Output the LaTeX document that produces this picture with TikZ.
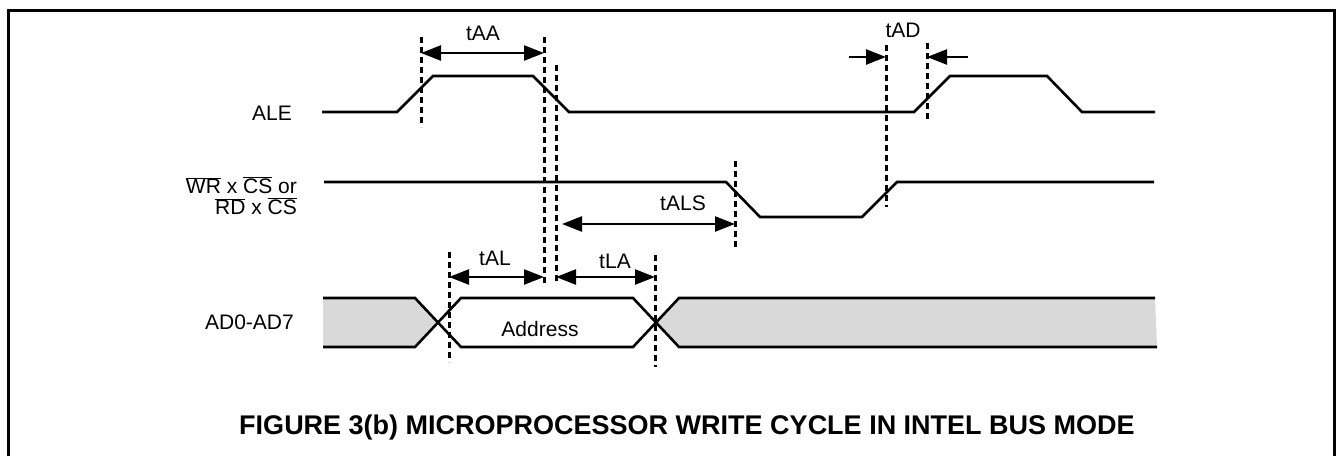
\documentclass[tikz,border=0pt]{standalone}
\usepackage{fontspec}
\setmainfont{Liberation Sans}
\usepackage{tikz}
\usetikzlibrary{arrows.meta}

\newcommand{\ovl}[1]{\(\overline{\mbox{#1}}\)}

\begin{document}
\begin{tikzpicture}[x=1pt, y=-1pt,
        sig/.style={line width=2.6pt, line join=miter},
        marker/.style={line width=3pt, dash pattern=on 6pt off 4pt},
        tip/.style={-{Triangle[length=20pt, width=15pt]}},
        dim/.style={line width=2.4pt, tip},
        dimboth/.style={line width=2.4pt, {Triangle[length=20pt, width=15pt]}-{Triangle[length=20pt, width=15pt]}},
        lbl/.style={font=\fontsize{21}{21}\selectfont, inner sep=0pt}]
        \useasboundingbox (0, 0) rectangle (1336, 456);
        \draw[line width=3pt] (8, 456) |- (1334, 10) -- (1334, 456);

        \node[lbl, anchor=east] (ale) at (292, 113) {ALE};
        \node[lbl, anchor=east, align=right] (wrcs) at (297, 196) {\ovl{WR} x \ovl{CS} or\\\ovl{RD} x \ovl{CS}};
        \node[lbl, anchor=east] (ad) at (294, 322) {AD0-AD7};

        \draw[sig] (322, 112) -- (397, 112) -- (433, 76) -- (533, 76) -- (569, 112) -- (914, 112)
                -- (950, 76) -- (1047, 76) -- (1082, 112) -- (1155, 112);
        \draw[sig] (324, 182) -- (726, 182) -- (760, 217) -- (862, 217) -- (897, 182) -- (1154, 182);

        \fill[black!15] (323, 298) -- (415, 298) -- (438, 322.5) -- (415, 347) -- (323, 347) -- cycle;
        \fill[black!15] (656, 322.5) -- (679, 298) -- (1155, 298) -- (1157, 347) -- (679, 347) -- cycle;
        \draw[sig] (323, 298) -- (415, 298) -- (461, 347) -- (633, 347) -- (679, 298) -- (1155, 298);
        \draw[sig] (323, 347) -- (415, 347) -- (461, 298) -- (633, 298) -- (679, 347) -- (1157, 347);
        \node[lbl] (addr) at (540, 329) {Address};

        \foreach \m/\x/\ya/\yb in {aa1/421/37/127, aa2/544/37/285, la1/556/65/283, ad1/886/45/207,
                ad2/927/43/122, als/735/161/249, al1/449/252/362, la2/655/255/367} {
                \coordinate (\m-t) at (\x, \ya);
                \coordinate (\m-b) at (\x, \yb);
                \draw[marker] (\m-t) -- (\m-b);
            }

        \coordinate (rowaa) at (0, 53);
        \coordinate (rowal) at (0, 277);
        \coordinate (adl) at (849, 57);
        \coordinate (adr) at (968, 57);
        \coordinate (alsl) at (562, 224);

        \draw[dimboth] (aa1-t |- rowaa) -- (aa2-t |- rowaa);
        \draw[dim] (adl) -- (ad1-t |- adl);
        \draw[dim] (adr) -- (ad2-t |- adr);
        \draw[dimboth] (alsl) -- (als-t |- alsl);
        \draw[dimboth] (al1-t |- rowal) -- (aa2-t |- rowal);
        \draw[dimboth] (la1-t |- rowal) -- (la2-t |- rowal);

        \node[lbl] (taa) at (483, 33) {tAA};
        \node[lbl] (tad) at (903, 30) {tAD};
        \node[lbl] (tals) at (683, 203) {tALS};
        \node[lbl] (tal) at (495, 258) {tAL};
        \node[lbl] (tla) at (615, 261) {tLA};

        \node[font=\bfseries\fontsize{27}{27}\selectfont, inner sep=0pt] (title) at (687, 428)
                {FIGURE 3(b) MICROPROCESSOR WRITE CYCLE IN INTEL BUS MODE};
    \end{tikzpicture}
\end{document}
